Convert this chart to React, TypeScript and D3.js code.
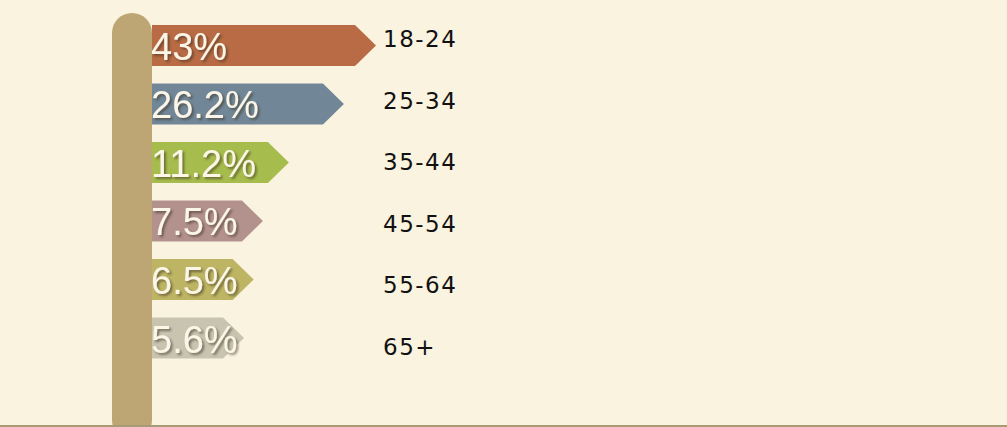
import React, { useEffect, useRef } from 'react';
import * as d3 from 'd3';

const ageGroups = ['18-24', '25-34', '35-44', '45-54', '55-64', '65+'];
const shares = [43, 26.2, 11.2, 7.5, 6.5, 5.6];
const shareLabels = ['43%', '26.2%', '11.2%', '7.5%', '6.5%', '5.6%'];
const barColors = ['#B86B44', '#718797', '#A6BC4C', '#B3928E', '#BDB563', '#C8C4B0'];

function App() {
  const graphRef = useRef<SVGSVGElement>(null);

  function drawChart() {
    const width = 1007;
    const height = 427;
    const poleX = 112;
    const poleW = 40;
    const arrow = 21;

    const svg = d3.select(graphRef.current);
    svg.selectAll('*').remove();
    svg.attr('width', width).attr('height', height);

    const defs = svg.append('defs');
    const shadow = defs.append('filter').attr('id', 'txtShadow')
      .attr('x', '-10%').attr('y', '-10%').attr('width', '130%').attr('height', '140%');
    shadow.append('feDropShadow')
      .attr('dx', 2).attr('dy', 2).attr('stdDeviation', 0.8)
      .attr('flood-color', '#3a2e20').attr('flood-opacity', 0.55);

    svg.append('rect')
      .attr('width', width).attr('height', height)
      .attr('fill', '#FAF3E0');

    // bar lengths grow on a log scale in the original infographic
    const x = d3.scaleLog().domain([5.6, 43]).range([244, 376]);
    const y = d3.scaleBand().domain(ageGroups).range([25, 358.5]).paddingInner(0.3);
    const yLabel = d3.scalePoint().domain(ageGroups).range([47, 355]);

    const data = ageGroups.map((g, i) => ({
      group: g, value: shares[i], label: shareLabels[i], color: barColors[i]
    }));

    const x0 = poleX + poleW;
    const arrowPath = (d: any) => {
      const top = y(d.group)!;
      const bw = y.bandwidth();
      const tip = x(d.value);
      return `M${x0},${top}H${tip - arrow}L${tip},${top + bw / 2}L${tip - arrow},${top + bw}H${x0}Z`;
    };

    const bars = svg.selectAll('g.bar')
      .data(data)
      .enter()
      .append('g')
        .attr('class', 'bar');

    bars.append('path')
      .attr('d', arrowPath)
      .attr('fill', d => d.color);

    bars.append('text')
      .attr('x', x0 - 1)
      .attr('y', d => y(d.group)! + y.bandwidth() - 6)
      .attr('fill', '#FBF6E8')
      .attr('filter', 'url(#txtShadow)')
      .style('font-family', '"Liberation Sans", Arial, sans-serif')
      .style('font-size', '38px')
      .text(d => d.label);

    svg.selectAll('text.age')
      .data(data)
      .enter()
      .append('text')
        .attr('class', 'age')
        .attr('x', 383)
        .attr('y', d => yLabel(d.group)!)
        .attr('fill', '#111')
        .style('font-family', '"DejaVu Sans", sans-serif')
        .style('font-size', '23px')
        .style('letter-spacing', '1.5px')
        .text(d => d.group);

    // the pole
    svg.append('rect')
      .attr('x', poleX).attr('y', 13)
      .attr('width', poleW).attr('height', height)
      .attr('rx', poleW / 2)
      .attr('fill', '#BDA674');

    // ground line
    svg.append('rect')
      .attr('x', 0).attr('y', height - 2)
      .attr('width', width).attr('height', 2)
      .attr('fill', '#A89A74');
  }

  useEffect(() => {
    document.body.style.margin = '0';
    drawChart();
  }, []);

  return (
    <svg ref={graphRef} style={{ display: 'block' }}></svg>
  );
}

export default App;
